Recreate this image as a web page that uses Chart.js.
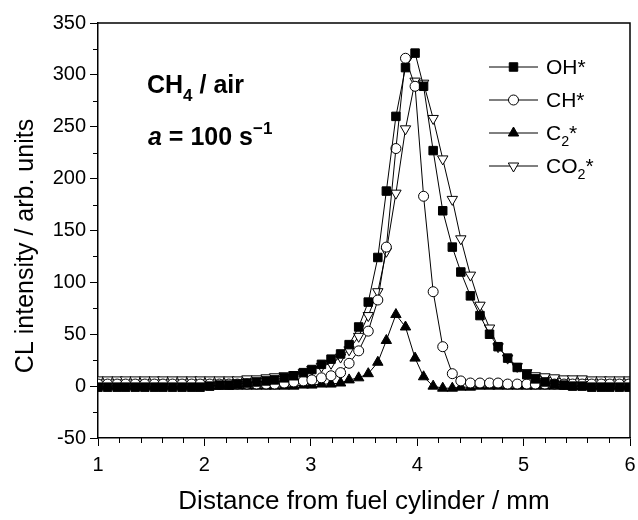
<!DOCTYPE html>
<html>
<head>
<meta charset="utf-8">
<script src="https://cdn.jsdelivr.net/npm/chart.js@4.4.0/dist/chart.umd.min.js"></script>
<style>
  html, body { margin: 0; padding: 0; background: #fff; }
</style>
</head>
<body>
<canvas id="chart" width="638" height="520"></canvas>
<script>
// distance from fuel cylinder (mm)
const distance = [
  1.00, 1.09, 1.18, 1.26, 1.35, 1.44, 1.53, 1.61, 1.70, 1.79,
  1.88, 1.96, 2.05, 2.14, 2.23, 2.31, 2.40, 2.49, 2.58, 2.66,
  2.75, 2.84, 2.93, 3.01, 3.10, 3.19, 3.28, 3.36, 3.45, 3.54,
  3.63, 3.71, 3.80, 3.89, 3.98, 4.06, 4.15, 4.24, 4.33, 4.41,
  4.50, 4.59, 4.68, 4.76, 4.85, 4.94, 5.03, 5.11, 5.20, 5.29,
  5.38, 5.46, 5.55, 5.64, 5.73, 5.81, 5.90, 5.99
];
const ohValues = [
  -1, -1, -1, -1, -1, -1, -1, -1, -1, -1,
  -1, -1, 0, 1, 1, 2, 3, 4, 5, 6,
  8, 10, 13, 16, 21, 26, 31, 40, 57, 81,
  124, 188, 260, 307, 321, 289, 227, 169, 134, 110,
  87, 68, 50, 38, 27, 18, 11, 7, 4, 2,
  1, 0, 0, -1, -1, -1, -1, -1
];
const chValues = [
  2, 2, 2, 2, 2, 2, 2, 2, 2, 2,
  2, 2, 2, 2, 2, 2, 2, 2, 2, 2,
  3, 4, 5, 6, 8, 10, 13, 22, 34, 53,
  83, 134, 229, 316, 289, 183, 91, 38, 12, 5,
  3, 3, 3, 3, 2, 2, 2, 2, 2, 2,
  2, 2, 2, 2, 2, 2, 2, 2
];
const c2Values = [
  0, 0, 0, 0, 0, 0, 0, 0, 0, 0,
  0, 0, 0, 0, 0, 0, 0, 0, 0, 0,
  0, 0, 1, 1, 2, 2, 3, 6, 8, 12,
  23, 44, 69, 57, 27, 9, 0, -2, -2, -1,
  -1, 0, 0, 0, 0, 0, 0, 0, 0, 0,
  0, 0, 0, 0, 0, 0, 0, 0
];
const co2Values = [
  6, 6, 6, 6, 6, 6, 6, 6, 6, 6,
  6, 6, 6, 6, 6, 6, 7, 7, 8, 9,
  10, 11, 13, 16, 19, 22, 28, 35, 48, 68,
  91, 130, 186, 248, 294, 292, 258, 219, 180, 142,
  107, 78, 56, 38, 27, 19, 13, 10, 9, 8,
  7, 7, 7, 6, 6, 6, 6, 6
];
const xMin = 1, xMax = 6, xStep = 1, xMinorStep = 0.2;
const yMin = -50, yMax = 350, yStep = 50, yMinorStep = 25;

const FONT = "'Liberation Sans', Arial, sans-serif";

function pts(values) {
  return values.map((v, i) => ({ x: distance[i], y: v }));
}

const series = [
  { label: [['OH', 0], ['*', 0]], data: ohValues, style: 'rect', fill: '#000', radius: 6, rotation: 0 },
  { label: [['CH', 0], ['*', 0]], data: chValues, style: 'circle', fill: '#fff', radius: 5, rotation: 0 },
  { label: [['C', 0], ['2', 1], ['*', 0]], data: c2Values, style: 'triangle', fill: '#000', radius: 6, rotation: 0 },
  { label: [['CO', 0], ['2', 1], ['*', 0]], data: co2Values, style: 'triangle', fill: '#fff', radius: 6, rotation: 180 }
];

// draws rich text: segments [text, mode] where mode 0 normal, 1 subscript, 2 superscript
function richText(ctx, x, y, segs, size, weight) {
  ctx.textBaseline = 'alphabetic';
  ctx.textAlign = 'left';
  for (const [t, mode, italic] of segs) {
    const s = mode ? size * 0.68 : size;
    ctx.font = (italic ? 'italic ' : '') + weight + ' ' + s + 'px ' + FONT;
    const dy = mode === 1 ? size * 0.3 : mode === 2 ? -size * 0.45 : 0;
    ctx.fillText(t, x, y + dy);
    x += ctx.measureText(t).width;
  }
}

const extras = {
  id: 'extras',
  afterDraw(chart) {
    const { ctx, chartArea: a, scales } = chart;
    ctx.save();
    ctx.strokeStyle = '#000';
    ctx.lineWidth = 1.5;
    // frame top / right
    ctx.beginPath();
    ctx.moveTo(a.left, a.top); ctx.lineTo(a.right, a.top); ctx.lineTo(a.right, a.bottom);
    ctx.stroke();
    // minor ticks
    ctx.lineWidth = 1;
    ctx.beginPath();
    for (let v = xMin + xMinorStep; v < xMax - 1e-6; v += xMinorStep) {
      if (Math.abs(v - Math.round(v)) < 1e-6) continue;
      const px = Math.round(scales.x.getPixelForValue(v)) + 0.5;
      ctx.moveTo(px, a.bottom); ctx.lineTo(px, a.bottom + 5);
    }
    for (let v = yMin + yMinorStep; v < yMax; v += yMinorStep) {
      if (v % yStep === 0) continue;
      const py = Math.round(scales.y.getPixelForValue(v)) + 0.5;
      ctx.moveTo(a.left, py); ctx.lineTo(a.left - 5, py);
    }
    ctx.stroke();

    // y axis title
    ctx.fillStyle = '#000';
    ctx.save();
    ctx.translate(26, 246);
    ctx.rotate(-Math.PI / 2);
    ctx.font = '25px ' + FONT;
    ctx.textAlign = 'center';
    ctx.textBaseline = 'middle';
    ctx.fillText('CL intensity / arb. units', 0, 0);
    ctx.restore();

    // legend
    const lx0 = 489, lx1 = 538, ly = [67, 100, 133, 166];
    series.forEach((s, i) => {
      ctx.strokeStyle = '#000';
      ctx.lineWidth = 1;
      ctx.beginPath();
      ctx.moveTo(lx0, ly[i]); ctx.lineTo(lx1, ly[i]);
      ctx.stroke();
      ctx.fillStyle = s.fill;
      Chart.helpers.drawPoint(ctx, {
        pointStyle: s.style, radius: s.radius, rotation: s.rotation, borderWidth: 1
      }, (lx0 + lx1) / 2, ly[i]);
      ctx.fillStyle = '#000';
      richText(ctx, 546, ly[i] + 7, s.label, 21, 'normal');
    });

    // annotation
    ctx.fillStyle = '#000';
    richText(ctx, 147, 93, [['CH', 0], ['4', 1], [' / air', 0]], 25, 'bold');
    richText(ctx, 148, 145, [['a', 0, true], [' = 100 s', 0], ['\u22121', 2]], 25, 'bold');
    ctx.restore();
  }
};

new Chart(document.getElementById('chart'), {
  type: 'scatter',
  data: {
    datasets: series.map(s => ({
      data: pts(s.data),
      showLine: true,
      borderColor: '#000',
      borderWidth: 1,
      pointStyle: s.style,
      pointRadius: s.radius,
      pointRotation: s.rotation,
      pointBackgroundColor: s.fill,
      pointBorderColor: '#000',
      pointBorderWidth: 1
    }))
  },
  options: {
    responsive: false,
    animation: false,
    layout: { padding: { top: 23, right: 8, left: 0, bottom: 0 } },
    plugins: { legend: { display: false }, tooltip: { enabled: false } },
    scales: {
      x: {
        type: 'linear', min: xMin, max: xMax,
        afterFit: s => { s.height = 82; s.paddingRight = 0; s.paddingLeft = 0; },
        ticks: { stepSize: xStep, color: '#000', font: { family: FONT, size: 20 }, padding: 7 },
        grid: { drawOnChartArea: false, drawTicks: true, tickLength: 8, color: '#000', lineWidth: 1 },
        border: { color: '#000', width: 1.5 },
        title: { display: true, text: 'Distance from fuel cylinder / mm', color: '#000',
                 font: { family: FONT, size: 26 }, padding: { top: 0, bottom: 3 } }
      },
      y: {
        min: yMin, max: yMax,
        afterFit: s => { s.width = 98; },
        ticks: { stepSize: yStep, color: '#000', font: { family: FONT, size: 20 }, padding: 4 },
        grid: { drawOnChartArea: false, drawTicks: true, tickLength: 8, color: '#000', lineWidth: 1 },
        border: { color: '#000', width: 1.5 }
      }
    }
  },
  plugins: [extras]
});
</script>
</body>
</html>
